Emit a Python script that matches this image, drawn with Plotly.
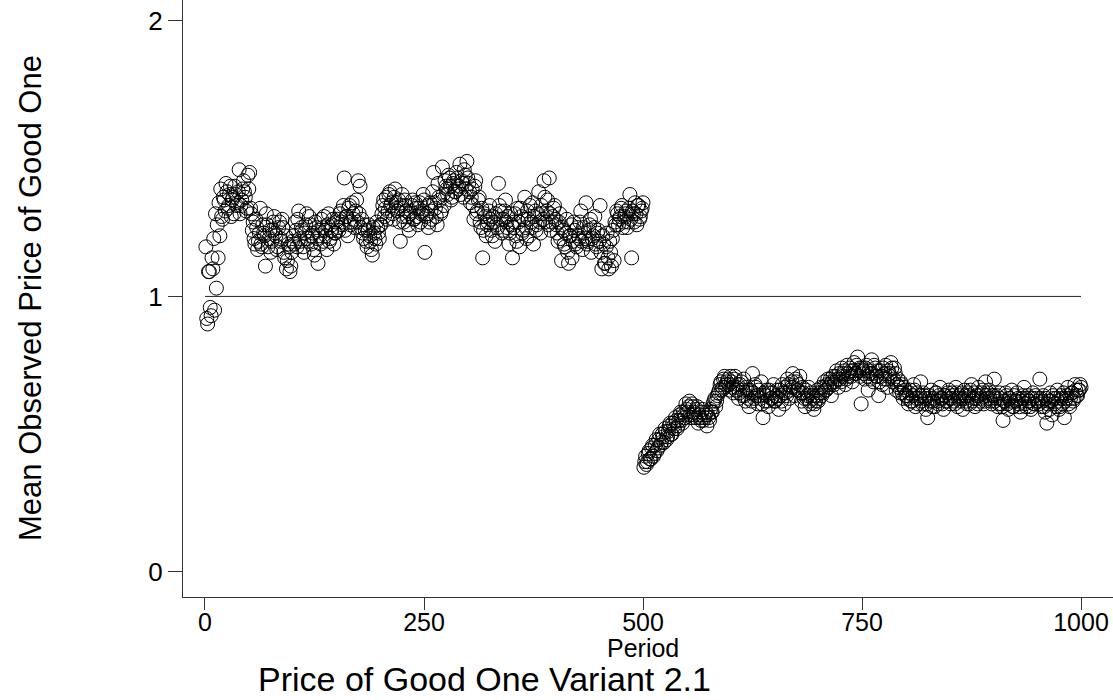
import plotly.graph_objects as go

# Mean observed price of good one, odd periods 1,3,...,499 (first regime)
price_first_odd = [
    1.18, 0.90, 1.09, 0.93, 1.10, 0.95, 1.03, 1.14, 1.22, 1.29, 1.36, 1.31, 1.38, 1.33, 1.40, 1.35, 1.30, 1.37, 1.34, 1.46, 1.33, 1.39, 1.38, 1.31, 1.44,
    1.45, 1.30, 1.27, 1.19, 1.25, 1.20, 1.32, 1.18, 1.23, 1.11, 1.26, 1.21, 1.16, 1.24, 1.29, 1.22, 1.18, 1.27, 1.20, 1.25, 1.14, 1.10, 1.19, 1.09, 1.16,
    1.22, 1.27, 1.18, 1.31, 1.20, 1.24, 1.16, 1.26, 1.21, 1.29, 1.19, 1.23, 1.15, 1.25, 1.12, 1.22, 1.28, 1.20, 1.24, 1.17, 1.30, 1.21, 1.26, 1.19, 1.23,
    1.28, 1.24, 1.31, 1.26, 1.43, 1.29, 1.22, 1.33, 1.27, 1.30, 1.25, 1.35, 1.42, 1.40, 1.28, 1.21, 1.24, 1.18, 1.26, 1.20, 1.15, 1.23, 1.19, 1.25, 1.21,
    1.26, 1.33, 1.29, 1.36, 1.31, 1.38, 1.34, 1.28, 1.39, 1.32, 1.35, 1.20, 1.37, 1.27, 1.33, 1.29, 1.24, 1.31, 1.35, 1.28, 1.32, 1.26, 1.34, 1.30, 1.37,
    1.16, 1.30, 1.25, 1.34, 1.28, 1.45, 1.32, 1.26, 1.36, 1.30, 1.47, 1.33, 1.40, 1.37, 1.43, 1.35, 1.41, 1.38, 1.45, 1.39, 1.48, 1.42, 1.36, 1.44, 1.49,
    1.41, 1.34, 1.39, 1.28, 1.42, 1.31, 1.36, 1.25, 1.14, 1.30, 1.22, 1.27, 1.33, 1.24, 1.29, 1.20, 1.26, 1.41, 1.31, 1.23, 1.28, 1.35, 1.25, 1.19, 1.30,
    1.14, 1.27, 1.22, 1.32, 1.18, 1.29, 1.24, 1.36, 1.21, 1.28, 1.33, 1.25, 1.19, 1.31, 1.26, 1.38, 1.23, 1.30, 1.42, 1.27, 1.35, 1.43, 1.24, 1.29, 1.33,
    1.26, 1.20, 1.30, 1.13, 1.24, 1.18, 1.28, 1.12, 1.22, 1.14, 1.27, 1.19, 1.25, 1.21, 1.31, 1.17, 1.23, 1.34, 1.20, 1.26, 1.16, 1.22, 1.29, 1.18, 1.24,
    1.33, 1.10, 1.19, 1.12, 1.23, 1.10, 1.16, 1.21, 1.13, 1.26, 1.30, 1.28, 1.32, 1.25, 1.29, 1.31, 1.27, 1.37, 1.14, 1.30, 1.34, 1.26, 1.33, 1.29, 1.32,
]

# Mean observed price of good one, even periods 2,4,...,500 (first regime)
price_first_even = [
    0.92, 1.09, 0.96, 1.14, 1.21, 1.30, 1.26, 1.34, 1.39, 1.28, 1.35, 1.41, 1.32, 1.37, 1.29, 1.36, 1.40, 1.33, 1.38, 1.30, 1.35, 1.42, 1.36, 1.32, 1.39,
    1.32, 1.24, 1.21, 1.28, 1.17, 1.23, 1.19, 1.26, 1.22, 1.30, 1.18, 1.24, 1.20, 1.27, 1.23, 1.17, 1.25, 1.21, 1.28, 1.16, 1.22, 1.13, 1.18, 1.11, 1.20,
    1.19, 1.24, 1.28, 1.21, 1.25, 1.18, 1.23, 1.30, 1.20, 1.26, 1.22, 1.17, 1.27, 1.21, 1.24, 1.19, 1.25, 1.29, 1.22, 1.26, 1.20, 1.24, 1.28, 1.23, 1.27,
    1.25, 1.30, 1.27, 1.33, 1.24, 1.29, 1.32, 1.26, 1.34, 1.28, 1.31, 1.27, 1.30, 1.25, 1.23, 1.26, 1.20, 1.24, 1.22, 1.17, 1.25, 1.21, 1.27, 1.23, 1.26,
    1.30, 1.35, 1.32, 1.28, 1.37, 1.33, 1.30, 1.36, 1.34, 1.31, 1.27, 1.33, 1.29, 1.35, 1.31, 1.26, 1.30, 1.33, 1.28, 1.34, 1.29, 1.32, 1.27, 1.31, 1.35,
    1.29, 1.33, 1.27, 1.31, 1.38, 1.34, 1.29, 1.41, 1.35, 1.31, 1.37, 1.42, 1.39, 1.44, 1.40, 1.36, 1.42, 1.38, 1.43, 1.40, 1.37, 1.41, 1.46, 1.39, 1.43,
    1.38, 1.36, 1.33, 1.40, 1.30, 1.35, 1.27, 1.32, 1.24, 1.29, 1.26, 1.31, 1.28, 1.22, 1.27, 1.30, 1.25, 1.33, 1.28, 1.24, 1.31, 1.27, 1.29, 1.23, 1.26,
    1.25, 1.30, 1.20, 1.27, 1.32, 1.23, 1.28, 1.25, 1.31, 1.22, 1.27, 1.34, 1.29, 1.24, 1.30, 1.27, 1.33, 1.28, 1.36, 1.31, 1.26, 1.30, 1.27, 1.32, 1.28,
    1.23, 1.27, 1.21, 1.25, 1.19, 1.23, 1.16, 1.22, 1.26, 1.20, 1.24, 1.18, 1.22, 1.27, 1.20, 1.25, 1.21, 1.19, 1.24, 1.28, 1.21, 1.25, 1.19, 1.23, 1.20,
    1.16, 1.22, 1.12, 1.18, 1.14, 1.20, 1.11, 1.24, 1.27, 1.31, 1.26, 1.29, 1.33, 1.27, 1.30, 1.25, 1.32, 1.28, 1.31, 1.27, 1.30, 1.33, 1.28, 1.31, 1.34,
]

# Mean observed price of good one, odd periods 501,503,...,999 (second regime)
price_second_odd = [
    0.38, 0.42, 0.40, 0.44, 0.41, 0.46, 0.43, 0.48, 0.45, 0.50, 0.47, 0.49, 0.52, 0.48, 0.51, 0.54, 0.50, 0.53, 0.56, 0.52, 0.55, 0.58, 0.54, 0.57, 0.61,
    0.58, 0.62, 0.56, 0.60, 0.57, 0.59, 0.54, 0.56, 0.58, 0.55, 0.57, 0.53, 0.56, 0.59, 0.58, 0.62, 0.60, 0.64, 0.66, 0.69, 0.67, 0.71, 0.68, 0.70, 0.66,
    0.69, 0.65, 0.71, 0.67, 0.63, 0.68, 0.64, 0.70, 0.62, 0.66, 0.60, 0.65, 0.72, 0.63, 0.67, 0.61, 0.64, 0.69, 0.56, 0.62, 0.66, 0.60, 0.65, 0.63, 0.68,
    0.62, 0.66, 0.59, 0.64, 0.68, 0.61, 0.65, 0.70, 0.63, 0.67, 0.72, 0.64, 0.69, 0.66, 0.71, 0.62, 0.65, 0.60, 0.63, 0.67, 0.61, 0.64, 0.59, 0.62, 0.66,
    0.63, 0.67, 0.65, 0.69, 0.66, 0.70, 0.68, 0.64, 0.71, 0.69, 0.73, 0.67, 0.70, 0.74, 0.72, 0.68, 0.75, 0.71, 0.73, 0.69, 0.76, 0.72, 0.78, 0.74, 0.61,
    0.73, 0.70, 0.75, 0.66, 0.72, 0.77, 0.69, 0.74, 0.71, 0.64, 0.73, 0.68, 0.70, 0.75, 0.67, 0.72, 0.76, 0.69, 0.74, 0.66, 0.70, 0.65, 0.68, 0.63, 0.66,
    0.64, 0.61, 0.66, 0.62, 0.68, 0.60, 0.65, 0.63, 0.69, 0.61, 0.64, 0.59, 0.56, 0.63, 0.66, 0.62, 0.60, 0.65, 0.61, 0.67, 0.63, 0.59, 0.64, 0.62, 0.66,
    0.61, 0.65, 0.62, 0.67, 0.60, 0.64, 0.63, 0.59, 0.66, 0.62, 0.65, 0.61, 0.68, 0.63, 0.60, 0.64, 0.67, 0.62, 0.65, 0.61, 0.69, 0.63, 0.66, 0.62, 0.64,
    0.70, 0.63, 0.60, 0.65, 0.61, 0.55, 0.62, 0.64, 0.59, 0.63, 0.66, 0.60, 0.62, 0.65, 0.61, 0.58, 0.63, 0.67, 0.60, 0.64, 0.62, 0.59, 0.65, 0.61, 0.63,
    0.62, 0.70, 0.60, 0.64, 0.58, 0.54, 0.62, 0.65, 0.57, 0.63, 0.60, 0.66, 0.59, 0.64, 0.61, 0.56, 0.63, 0.67, 0.60, 0.65, 0.62, 0.68, 0.64, 0.66, 0.68,
]

# Mean observed price of good one, even periods 502,504,...,1000 (second regime)
price_second_even = [
    0.40, 0.39, 0.43, 0.41, 0.45, 0.42, 0.46, 0.44, 0.48, 0.46, 0.50, 0.47, 0.51, 0.49, 0.53, 0.50, 0.54, 0.52, 0.55, 0.53, 0.57, 0.55, 0.58, 0.56, 0.59,
    0.60, 0.57, 0.61, 0.58, 0.56, 0.60, 0.57, 0.55, 0.59, 0.56, 0.58, 0.57, 0.55, 0.58, 0.61, 0.63, 0.62, 0.65, 0.68, 0.66, 0.70, 0.67, 0.69, 0.68, 0.71,
    0.67, 0.70, 0.66, 0.68, 0.65, 0.69, 0.66, 0.64, 0.67, 0.63, 0.66, 0.62, 0.65, 0.68, 0.64, 0.66, 0.63, 0.61, 0.65, 0.64, 0.62, 0.66, 0.63, 0.65, 0.62,
    0.64, 0.63, 0.66, 0.62, 0.65, 0.67, 0.64, 0.68, 0.66, 0.69, 0.67, 0.70, 0.66, 0.68, 0.65, 0.67, 0.63, 0.66, 0.64, 0.62, 0.65, 0.63, 0.61, 0.64, 0.62,
    0.65, 0.64, 0.67, 0.66, 0.68, 0.67, 0.70, 0.69, 0.68, 0.71, 0.70, 0.72, 0.69, 0.71, 0.73, 0.70, 0.72, 0.74, 0.71, 0.73, 0.72, 0.75, 0.73, 0.71, 0.74,
    0.72, 0.74, 0.71, 0.73, 0.70, 0.72, 0.75, 0.71, 0.73, 0.69, 0.71, 0.74, 0.72, 0.70, 0.73, 0.71, 0.74, 0.70, 0.72, 0.68, 0.67, 0.69, 0.65, 0.67, 0.64,
    0.63, 0.65, 0.62, 0.64, 0.66, 0.63, 0.61, 0.64, 0.62, 0.65, 0.63, 0.61, 0.64, 0.62, 0.60, 0.63, 0.65, 0.62, 0.64, 0.63, 0.61, 0.64, 0.62, 0.65, 0.63,
    0.63, 0.64, 0.61, 0.65, 0.63, 0.62, 0.65, 0.63, 0.64, 0.61, 0.64, 0.66, 0.62, 0.65, 0.63, 0.61, 0.64, 0.63, 0.66, 0.62, 0.64, 0.65, 0.63, 0.61, 0.64,
    0.62, 0.64, 0.61, 0.63, 0.60, 0.62, 0.65, 0.61, 0.63, 0.62, 0.60, 0.64, 0.62, 0.63, 0.60, 0.62, 0.64, 0.61, 0.63, 0.62, 0.60, 0.63, 0.61, 0.64, 0.62,
    0.61, 0.63, 0.62, 0.60, 0.63, 0.61, 0.59, 0.62, 0.64, 0.61, 0.63, 0.62, 0.60, 0.63, 0.65, 0.62, 0.64, 0.61, 0.63, 0.65, 0.63, 0.66, 0.64, 0.66, 0.67,
]

periods_first_odd = list(range(1, 2 * len(price_first_odd), 2))
periods_first_even = list(range(2, 2 * len(price_first_even) + 1, 2))
periods_second_odd = list(range(501, 501 + 2 * len(price_second_odd), 2))
periods_second_even = list(range(502, 502 + 2 * len(price_second_even), 2))

reference_x = [0, 1000]
reference_y = [1, 1]

x_ticks = [0, 250, 500, 750, 1000]
y_ticks = [0, 1, 2]

FONT = "Liberation Sans, Arial, Helvetica, sans-serif"

all_periods = periods_first_odd + periods_first_even + periods_second_odd + periods_second_even
all_prices = price_first_odd + price_first_even + price_second_odd + price_second_even

fig = go.Figure()
fig.add_trace(go.Scatter(
    x=reference_x, y=reference_y, mode="lines",
    line=dict(color="#222222", width=1), showlegend=False, hoverinfo="skip"))
fig.add_trace(go.Scatter(
    x=all_periods, y=all_prices,
    mode="markers",
    marker=dict(symbol="circle-open", size=14, color="black", line=dict(width=1, color="black")),
    showlegend=False))

W, H = 1113, 700
ml, mr, mt, mb = 183, 0, 0, 103
pw = W - ml - mr
ph = H - mt - mb

fig.update_layout(
    width=W, height=H,
    margin=dict(l=ml, r=mr, t=mt, b=mb, pad=0),
    paper_bgcolor="white", plot_bgcolor="white",
    xaxis=dict(range=[-25.1, 1036.5], tickvals=x_ticks, ticktext=[str(v) for v in x_ticks],
               showgrid=False, zeroline=False, showline=True, linecolor="#333333", linewidth=1,
               ticks="outside", ticklen=12, tickcolor="#333333", tickwidth=1,
               ticklabelstandoff=-9,
               tickfont=dict(family=FONT, size=25, color="black")),
    yaxis=dict(range=[-0.091, 2.076], tickvals=y_ticks, ticktext=[str(v) for v in y_ticks],
               showgrid=False, zeroline=False, showline=True, linecolor="#333333", linewidth=1,
               ticks="outside", ticklen=14, tickcolor="#333333", tickwidth=1,
               tickfont=dict(family=FONT, size=26, color="black")),
    annotations=[
        dict(text="Mean Observed Price of Good One", xref="paper", yref="paper",
             x=(30 - ml) / pw, y=(H - mb - 298) / ph, textangle=-90, showarrow=False,
             xanchor="center", yanchor="middle", font=dict(family=FONT, size=31, color="black")),
        dict(text="Period", xref="paper", yref="paper",
             x=(643 - ml) / pw, y=(H - mb - 648) / ph, showarrow=False,
             xanchor="center", yanchor="middle", font=dict(family=FONT, size=25, color="black")),
        dict(text="Price of Good One Variant 2.1", xref="paper", yref="paper",
             x=(484 - ml) / pw, y=(H - mb - 679) / ph, showarrow=False,
             xanchor="center", yanchor="middle", font=dict(family=FONT, size=34, color="black")),
    ],
)

fig.write_html("out.html")
